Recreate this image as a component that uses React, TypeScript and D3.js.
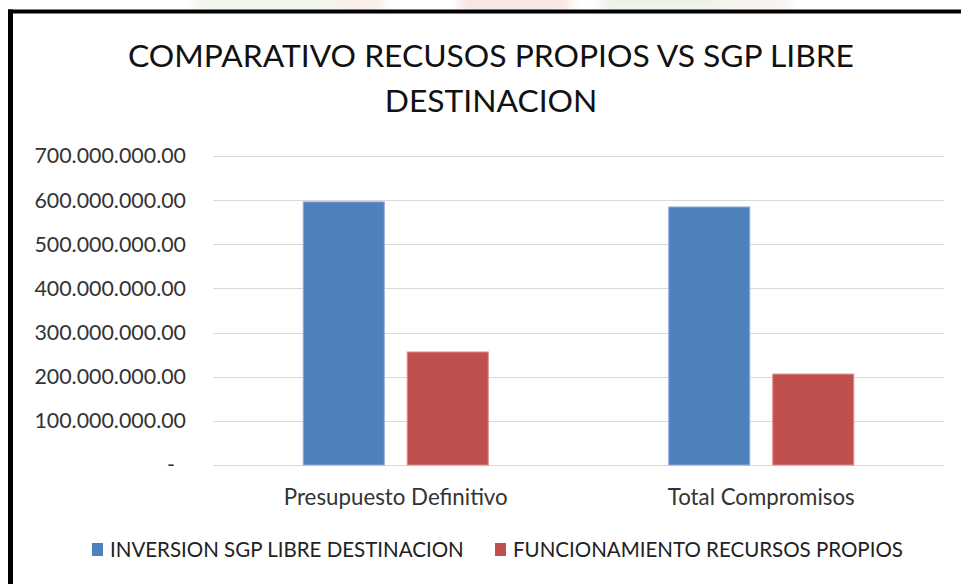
import React from "react";
import * as d3 from "d3";

const categories = ["Presupuesto Definitivo", "Total Compromisos"];
const seriesNames = ["INVERSION SGP LIBRE DESTINACION", "FUNCIONAMIENTO RECURSOS PROPIOS"];
const inversionSgp = [596000000, 584500000];
const funcionamientoRP = [256000000, 206000000];
const yTicks = [0, 100000000, 200000000, 300000000, 400000000, 500000000, 600000000, 700000000];
const titleLines = ["COMPARATIVO RECUSOS PROPIOS VS SGP LIBRE", "DESTINACION"];
const colors = ["#4F81BD", "#C0504D"];
const strokeColors = ["#8EAADB", "#E08A88"];

const W = 961;
const H = 584;
const FONT = "Lato, 'Open Sans', sans-serif";

const locale = d3.formatLocale({ decimal: ".", thousands: ".", grouping: [3], currency: ["", ""] });
const fmt = locale.format(",.2f");

export default function App() {
  const plotL = 213, plotR = 944, plotT = 156, plotB = 465;
  const y = d3.scaleLinear().domain([0, 700000000]).range([plotB, plotT]);
  const x0 = d3.scaleBand<string>().domain(categories).range([plotL, plotR]).paddingInner(0).paddingOuter(0);
  const x1 = d3.scaleBand<string>().domain(seriesNames).range([0, x0.bandwidth()]).paddingInner(0.221).paddingOuter(0.868);
  const data = [inversionSgp, funcionamientoRP];

  return (
    <svg width={W} height={H} style={{ position: "absolute", left: 0, top: 0, background: "#fff" }}>
      <defs>
        <filter id="blur" x="-50%" y="-50%" width="200%" height="200%">
          <feGaussianBlur stdDeviation="6" />
        </filter>
      </defs>
      {/* faint background image strip above the frame */}
      <g filter="url(#blur)" opacity={0.22}>
        <rect x={195} y={-10} width={150} height={24} fill="#b9d3b0" />
        <rect x={335} y={-10} width={50} height={24} fill="#e7b4a8" />
        <rect x={460} y={-10} width={110} height={24} fill="#d88a7a" />
        <rect x={600} y={-10} width={120} height={24} fill="#a9c49a" />
        <rect x={720} y={-10} width={70} height={24} fill="#d9c9b9" />
      </g>
      <rect x={8} y={13.5} width={W - 8} height={H} fill="#fff" />
      {/* frame */}
      <line x1={10.5} x2={10.5} y1={9.5} y2={H} stroke="#000" strokeWidth={5} />
      <line x1={8} x2={W} y1={11.5} y2={11.5} stroke="#000" strokeWidth={4} />

      {/* title */}
      {titleLines.map((t, i) => (
        <text key={i} x={491} y={67 + i * 45} textAnchor="middle" fontFamily={FONT} fontSize={31.8} fill="#111">
          {t}
        </text>
      ))}

      {/* gridlines */}
      {yTicks.map((t) => (
        <line key={t} x1={plotL} x2={plotR} y1={Math.round(y(t)) + 0.5} y2={Math.round(y(t)) + 0.5} stroke="#D9D9D9" strokeWidth={1.2} />
      ))}

      {/* y tick labels */}
      {yTicks.map((t) => (
        <text key={"l" + t} x={t === 0 ? 175 : 186} y={y(t)} dy="0.35em" textAnchor="end" fontFamily={FONT} fontSize={21.4} fill="#333">
          {t === 0 ? "-" : fmt(t)}
        </text>
      ))}

      {/* bars */}
      {categories.map((c, ci) => (
        <g key={c} transform={`translate(${x0(c)},0)`}>
          {seriesNames.map((s, si) => (
            <rect
              key={s}
              x={x1(s)}
              y={y(data[si][ci])}
              width={x1.bandwidth()}
              height={plotB - y(data[si][ci])}
              fill={colors[si]}
              stroke={strokeColors[si]}
              strokeWidth={1}
            />
          ))}
        </g>
      ))}

      {/* category labels */}
      {categories.map((c) => (
        <text key={"c" + c} x={(x0(c) as number) + x0.bandwidth() / 2} y={505} textAnchor="middle" fontFamily={FONT} fontSize={22.3} fill="#333">
          {c}
        </text>
      ))}

      {/* legend */}
      {seriesNames.map((s, i) => {
        const lx = [92, 495][i];
        return (
          <g key={"lg" + s}>
            <rect x={lx} y={543} width={11} height={13} fill={colors[i]} />
            <text x={lx + 18} y={557} fontFamily={FONT} fontSize={20.5} fill="#222">
              {s}
            </text>
          </g>
        );
      })}
    </svg>
  );
}
